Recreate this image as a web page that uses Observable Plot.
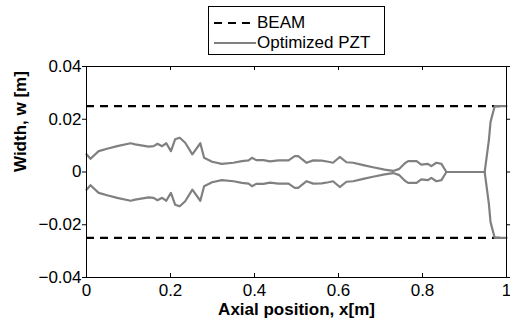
<!DOCTYPE html>
<html><head><meta charset="utf-8">
<script src="https://cdn.jsdelivr.net/npm/d3@7"></script>
<script src="https://cdn.jsdelivr.net/npm/@observablehq/plot@0.6"></script>
<style>
body{margin:0;background:#fff;font-family:"Liberation Sans",Arial,sans-serif;}
#wrap{position:relative;width:510px;height:325px;overflow:hidden;}
#chart{position:absolute;left:0;top:0;}
#legend{position:absolute;left:208px;top:6px;width:177px;height:49px;border:1px solid #000;box-sizing:border-box;background:#fff;}
#legend .row{position:absolute;left:0;height:20px;width:175px;}
#legend .row svg{position:absolute;left:5px;top:0;}
#legend .row span{position:absolute;left:48px;top:0;font-size:17px;line-height:20px;color:#000;white-space:nowrap;}
</style></head>
<body>
<div id="wrap">
  <div id="chart"></div>
  <div id="legend"></div>
</div>
<script>
// ---- data ----
const seriesNames = ["BEAM", "Optimized PZT"];
const beamHalfWidth = 0.025;
const axialPos = [0, 0.0095, 0.029, 0.049, 0.073, 0.105, 0.116, 0.148, 0.160, 0.169, 0.180, 0.190, 0.201, 0.211, 0.222, 0.235, 0.252, 0.271, 0.280, 0.299, 0.322, 0.350, 0.370, 0.386, 0.394, 0.404, 0.421, 0.437, 0.457, 0.481, 0.496, 0.504, 0.524, 0.540, 0.560, 0.576, 0.587, 0.603, 0.619, 0.635, 0.659, 0.682, 0.710, 0.730, 0.745, 0.758, 0.766, 0.786, 0.797, 0.813, 0.821, 0.833, 0.845, 0.857, 0.948, 0.958, 0.962, 0.972, 1.0];
const pztHalfWidth = [0.0067, 0.0050, 0.0079, 0.0088, 0.0098, 0.0109, 0.0105, 0.0096, 0.0098, 0.0107, 0.0098, 0.0109, 0.0079, 0.0124, 0.0130, 0.0111, 0.0067, 0.0109, 0.0054, 0.0039, 0.0031, 0.0035, 0.0041, 0.0044, 0.0054, 0.0045, 0.0045, 0.0040, 0.0044, 0.0044, 0.0060, 0.0060, 0.0035, 0.0044, 0.0043, 0.0039, 0.0035, 0.0057, 0.0037, 0.0035, 0.0026, 0.0018, 0.0009, 0.0004, 0.0012, 0.0033, 0.0041, 0.0041, 0.0028, 0.0031, 0.0022, 0.0035, 0.0031, 0.0000, 0.0000, 0.0120, 0.0190, 0.0250, 0.0250];
const xTicks = [0, 0.2, 0.4, 0.6, 0.8, 1];
const xTickLabels = ["0", "0.2", "0.4", "0.6", "0.8", "1"];
const yTicks = [-0.04, -0.02, 0, 0.02, 0.04];
const yTickLabels = ["\u22120.04", "\u22120.02", "0", "0.02", "0.04"];
const xLabel = "Axial position, x[m]";
const yLabel = "Width, w [m]";

// ---- tables ----
const upper = axialPos.map((x, i) => ({x, w: pztHalfWidth[i]}));
const lower = axialPos.map((x, i) => ({x, w: -pztHalfWidth[i]}));
const beam = [beamHalfWidth, -beamHalfWidth];
const xMin = xTicks[0], xMax = xTicks[xTicks.length - 1];
const yMin = yTicks[0], yMax = yTicks[yTicks.length - 1];

const beamStyle = {stroke: "#000", strokeWidth: 2.2, strokeDasharray: "8,6"};
const pztStyle = {stroke: "#808080", strokeWidth: 2.2};

const chart = Plot.plot({
  width: 510, height: 325,
  marginTop: 66, marginBottom: 48, marginLeft: 86, marginRight: 4,
  style: {fontFamily: "'Liberation Sans', Arial, sans-serif", fontSize: "17px", background: "#fff", color: "#000"},
  x: {domain: [xMin, xMax]},
  y: {domain: [yMin, yMax]},
  marks: [
    Plot.ruleY(beam, {y: d => d, ...beamStyle}),
    Plot.line(upper, {x: "x", y: "w", ...pztStyle}),
    Plot.line(lower, {x: "x", y: "w", ...pztStyle}),
    Plot.frame({stroke: "#000", strokeWidth: 1}),
    // inward ticks on all four sides
    Plot.ruleX(xTicks, {x: d => d, y1: yMin, y2: yMin, insetBottom: 4, stroke: "#000"}),
    Plot.ruleX(xTicks, {x: d => d, y1: yMax, y2: yMax, insetTop: 4, stroke: "#000"}),
    Plot.ruleY(yTicks, {y: d => d, x1: xMin, x2: xMin, insetRight: 4, stroke: "#000"}),
    Plot.ruleY(yTicks, {y: d => d, x1: xMax, x2: xMax, insetLeft: 4, stroke: "#000"}),
    Plot.axisX({ticks: xTicks, tickSize: 0, tickPadding: 6, label: null, fontSize: 17,
      tickFormat: d => xTickLabels[xTicks.indexOf(d)]}),
    Plot.axisY({ticks: yTicks, tickSize: 0, tickPadding: 5, label: null, fontSize: 17,
      tickFormat: d => yTickLabels[yTicks.indexOf(d)]}),
    Plot.text([xLabel], {text: d => d, frameAnchor: "bottom", dy: 37, fontWeight: "bold", fontSize: 17}),
    Plot.text([yLabel], {text: d => d, frameAnchor: "left", rotate: -90, dx: -66, fontWeight: "bold", fontSize: 17})
  ]
});
document.getElementById("chart").appendChild(chart);

// ---- legend ----
const box = document.getElementById("legend");
seriesNames.forEach((name, i) => {
  const row = document.createElement("div");
  row.className = "row";
  row.style.top = (6 + i * 20) + "px";
  const st = i === 0 ? beamStyle : pztStyle;
  row.innerHTML = `<svg width="42" height="20"><line x1="0" x2="42" y1="10" y2="10" stroke="${st.stroke}" stroke-width="${st.strokeWidth}" ${st.strokeDasharray ? `stroke-dasharray="${st.strokeDasharray}"` : ""}/></svg><span>${name}</span>`;
  box.appendChild(row);
});
</script>
</body></html>
